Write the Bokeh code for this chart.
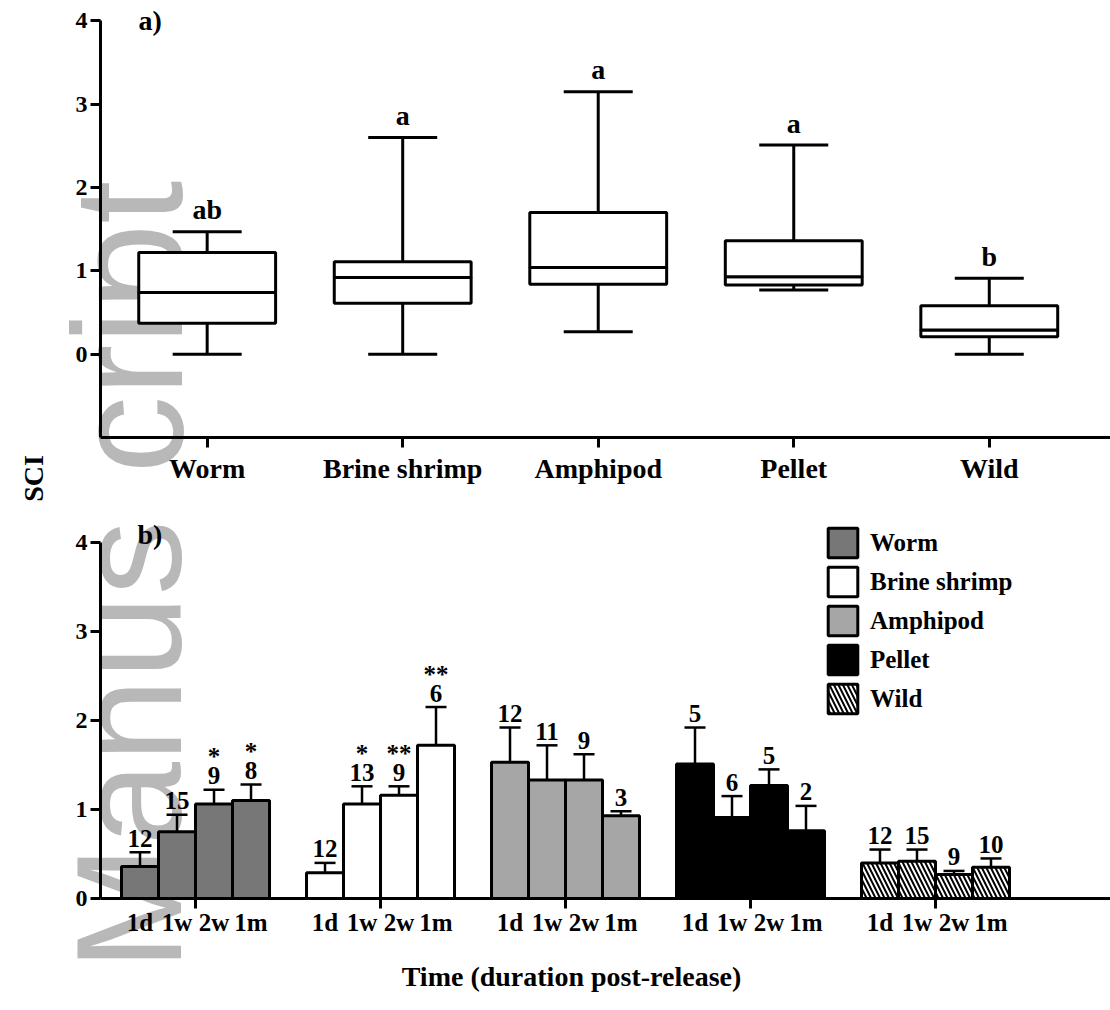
import math
from bokeh.plotting import figure
from bokeh.models import (Range1d, FixedTicker, ColumnDataSource, Whisker, TeeHead, Label)
from bokeh.layouts import column
from bokeh.embed import file_html
from bokeh.resources import INLINE
from bokeh.core.properties import value

FONT = "Liberation Serif"

# ---------------- data: panel a (box plots) ----------------
categories = ["Worm", "Brine shrimp", "Amphipod", "Pellet", "Wild"]
box_low = [0.00, 0.00, 0.27, 0.77, 0.00]
box_q1 = [0.37, 0.61, 0.84, 0.83, 0.21]
box_med = [0.74, 0.92, 1.04, 0.93, 0.29]
box_q3 = [1.22, 1.11, 1.70, 1.36, 0.58]
box_high = [1.47, 2.60, 3.15, 2.51, 0.91]
box_letters = ["ab", "a", "a", "a", "b"]

# ---------------- data: panel b (bars) ----------------
times = ["1d", "1w", "2w", "1m"]
mean_worm = [0.36, 0.75, 1.06, 1.10]
sem_worm = [0.16, 0.19, 0.16, 0.18]
n_worm = ["12", "15", "9", "8"]
star_worm = ["", "", "*", "*"]

mean_brine = [0.29, 1.06, 1.16, 1.72]
sem_brine = [0.11, 0.20, 0.10, 0.43]
n_brine = ["12", "13", "9", "6"]
star_brine = ["", "*", "**", "**"]

mean_amph = [1.53, 1.33, 1.33, 0.93]
sem_amph = [0.39, 0.39, 0.29, 0.05]
n_amph = ["12", "11", "9", "3"]
star_amph = ["", "", "", ""]

mean_pellet = [1.51, 0.91, 1.27, 0.76]
sem_pellet = [0.41, 0.24, 0.18, 0.28]
n_pellet = ["5", "6", "5", "2"]
star_pellet = ["", "", "", ""]

mean_wild = [0.40, 0.42, 0.27, 0.35]
sem_wild = [0.15, 0.13, 0.04, 0.10]
n_wild = ["12", "15", "9", "10"]
star_wild = ["", "", "", ""]

groups = [
    ("Worm", mean_worm, sem_worm, n_worm, star_worm, "#777777", None),
    ("Brine shrimp", mean_brine, sem_brine, n_brine, star_brine, "#ffffff", None),
    ("Amphipod", mean_amph, sem_amph, n_amph, star_amph, "#a6a6a6", None),
    ("Pellet", mean_pellet, sem_pellet, n_pellet, star_pellet, "#000000", None),
    ("Wild", mean_wild, sem_wild, n_wild, star_wild, "#ffffff", "\\"),
]

WM_COLOR = "#b8b8b8"


def base_fig(w, h, xr, yr):
    p = figure(width=w, height=h, output_backend="svg", toolbar_location=None,
               x_range=xr, y_range=yr, min_border_left=0, min_border_right=0,
               min_border_top=0, min_border_bottom=0)
    p.outline_line_color = None
    p.grid.visible = False
    p.background_fill_color = "white"
    p.border_fill_color = "white"
    return p


def style_axes(p, tick_size):
    for ax in p.axis:
        ax.axis_line_width = 3
        ax.axis_line_color = "black"
        ax.major_tick_line_width = 3
        ax.major_tick_line_color = "black"
        ax.major_tick_out = 10
        ax.major_tick_in = 0
        ax.minor_tick_line_color = None
        ax.major_label_text_font = FONT
        ax.major_label_text_font_style = "bold"
        ax.major_label_text_color = "black"
    p.yaxis.major_label_text_font_size = "24px"
    p.xaxis.major_label_text_font_size = tick_size
    p.yaxis.major_label_standoff = 3


# ================= panel a =================
A_X0, A_X1 = 0.455, 5.62          # data extent of the drawn x axis
A_Y0, A_Y1 = -1.0, 4.0            # data extent of the drawn y axis
top = base_fig(1110, 503, Range1d(-0.057, 5.62), Range1d(-1.792, 4.244))

pos = list(range(1, len(categories) + 1))
bsrc = ColumnDataSource(dict(x=pos, low=box_low, q1=box_q1, med=box_med,
                             q3=box_q3, high=box_high, letter=box_letters))

# watermark part (under everything)
top.add_layout(Label(x=128, y=30, x_units="screen", y_units="screen", text="cript",
                     angle=math.pi / 2, text_font="Liberation Sans", text_font_size="155px",
                     text_color=WM_COLOR, text_align="left", text_baseline="alphabetic",
                     level="underlay"))

top.add_layout(Whisker(source=bsrc, base="x", lower="q3", upper="high", dimension="height",
                       line_width=3, line_color="black",
                       upper_head=TeeHead(size=69, line_width=3, line_color="black"),
                       lower_head=None))
top.add_layout(Whisker(source=bsrc, base="x", lower="low", upper="q1", dimension="height",
                       line_width=3, line_color="black",
                       lower_head=TeeHead(size=69, line_width=3, line_color="black"),
                       upper_head=None))
top.vbar(x="x", bottom="q1", top="med", width=0.7, source=bsrc, fill_color="white",
         line_color="black", line_width=3)
top.vbar(x="x", bottom="med", top="q3", width=0.7, source=bsrc, fill_color="white",
         line_color="black", line_width=3)
top.text(x="x", y="high", text="letter", source=bsrc, y_offset=-22, text_align="center",
         text_baseline="alphabetic", text_font=value(FONT), text_font_style="bold",
         text_font_size="28px", text_color="black")

style_axes(top, "28px")
top.xaxis.fixed_location = A_Y0
top.xaxis.bounds = (A_X0, A_X1)
top.xaxis.ticker = FixedTicker(ticks=pos)
top.xaxis.major_label_overrides = {p_: c for p_, c in zip(pos, categories)}
top.xaxis.major_label_standoff = 5
top.yaxis.fixed_location = A_X0
top.yaxis.bounds = (A_Y0, A_Y1)
top.yaxis.ticker = FixedTicker(ticks=[0, 1, 2, 3, 4])

top.add_layout(Label(x=138, y=468, x_units="screen", y_units="screen", text="a)",
                     text_font=FONT, text_font_style="bold", text_font_size="28px",
                     text_color="black"))
top.add_layout(Label(x=33, y=25, x_units="screen", y_units="screen", text="SCI",
                     angle=math.pi / 2, text_font=FONT, text_font_style="bold",
                     text_font_size="28px", text_color="black", text_align="center",
                     text_baseline="alphabetic"))

# ================= panel b =================
B_X0, B_X1 = -1.068, 26.23
B_Y0, B_Y1 = 0.0, 4.0
bot = base_fig(1110, 507, Range1d(-3.771, 26.23), Range1d(-1.257, 4.435))

bot.add_layout(Label(x=128, y=40, x_units="screen", y_units="screen", text="Manus",
                     angle=math.pi / 2, text_font="Liberation Sans", text_font_size="150px",
                     text_color=WM_COLOR, text_align="left", text_baseline="alphabetic",
                     level="underlay"))

GROUP_STEP = 5
all_x, group_centers, overrides = [], [], {}
for g, (name, means, sems, ns, stars, color, hatch) in enumerate(groups):
    xs = [g * GROUP_STEP + j for j in range(len(times))]
    all_x += xs
    group_centers.append(g * GROUP_STEP + (len(times) - 1) / 2)
    for xv, t in zip(xs, times):
        overrides[xv] = t
    src = ColumnDataSource(dict(x=xs, top=means, upper=[m + s for m, s in zip(means, sems)],
                                n=ns, star=stars))
    bot.add_layout(Whisker(source=src, base="x", lower="top", upper="upper",
                           dimension="height", line_width=2.5, line_color="black",
                           upper_head=TeeHead(size=21, line_width=2.5, line_color="black"),
                           lower_head=None))
    kw = dict(x="x", top="top", bottom=0, width=1, source=src, fill_color=color,
              line_color="black", line_width=3, legend_label=name)
    if hatch:
        kw.update(hatch_pattern=hatch, hatch_color="black", hatch_scale=9, hatch_weight=2)
    bot.vbar(**kw)
    bot.text(x="x", y="upper", text="n", source=src, y_offset=-14, text_align="center",
             text_baseline="alphabetic", text_font=value(FONT), text_font_style="bold",
             text_font_size="25px", text_color="black")
    bot.text(x="x", y="upper", text="star", source=src, y_offset=-33, text_align="center",
             text_baseline="alphabetic", text_font=value(FONT), text_font_style="bold",
             text_font_size="25px", text_color="black")

style_axes(bot, "25px")
bot.xaxis.fixed_location = B_Y0
bot.xaxis.bounds = (B_X0, B_X1)
bot.xaxis.ticker = FixedTicker(ticks=all_x, minor_ticks=group_centers)
bot.xaxis.major_label_overrides = overrides
bot.xaxis.major_tick_line_color = None
bot.xaxis.minor_tick_line_color = "black"
bot.xaxis.minor_tick_line_width = 3
bot.xaxis.minor_tick_out = 10
bot.xaxis.minor_tick_in = 0
bot.xaxis.major_label_standoff = 0
bot.yaxis.fixed_location = B_X0
bot.yaxis.bounds = (B_Y0, B_Y1)
bot.yaxis.ticker = FixedTicker(ticks=[0, 1, 2, 3, 4])

bot.add_layout(Label(x=571, y=19, x_units="screen", y_units="screen",
                     text="Time (duration post-release)", text_align="center",
                     text_font=FONT, text_font_style="bold", text_font_size="28px",
                     text_color="black"))
bot.add_layout(Label(x=137, y=461, x_units="screen", y_units="screen", text="b)",
                     text_font=FONT, text_font_style="bold", text_font_size="28px",
                     text_color="black"))

lg = bot.legend[0]
lg.location = (824, 293)
lg.padding = 0
lg.margin = 0
lg.spacing = 2
lg.glyph_width = 37
lg.glyph_height = 37
lg.label_height = 37
lg.label_standoff = 9
lg.label_text_font = FONT
lg.label_text_font_style = "bold"
lg.label_text_font_size = "25px"
lg.label_text_color = "black"
lg.border_line_color = None
lg.background_fill_alpha = 0

layout = column(top, bot, spacing=0)
open("out.html", "w").write(file_html(layout, INLINE))
